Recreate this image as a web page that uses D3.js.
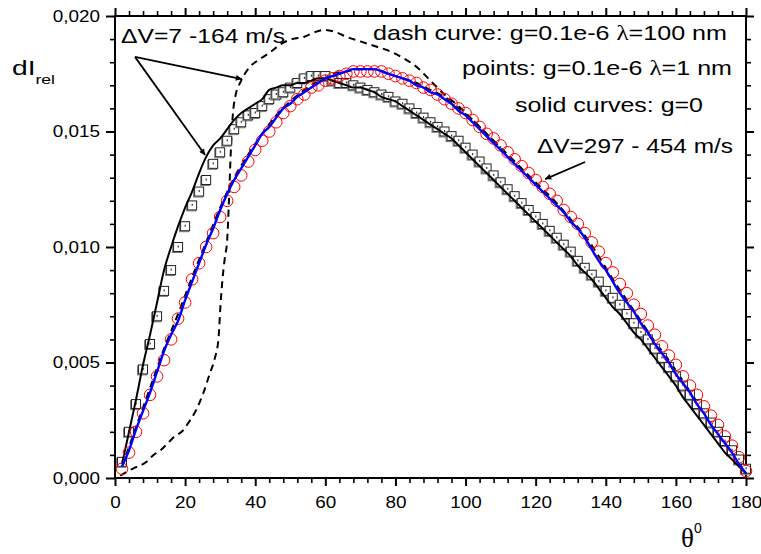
<!DOCTYPE html>
<html><head><meta charset="utf-8">
<script src="https://cdn.jsdelivr.net/npm/d3@7"></script>
<style>body{margin:0;background:#fff}svg{display:block}</style>
</head><body>
<svg id="c" width="761" height="554"></svg>
<script>
// ---- data ----
const xMajorTicks = [0,20,40,60,80,100,120,140,160,180];
const yMajorTicks = [0,0.005,0.010,0.015,0.020];
const pointTheta = d3.range(2,181,2);
// squares: points g=0.1e-6 lambda=1nm, dV=7-164 m/s
const squaresLow = [0.0007,0.0020,0.0032,0.0047,0.0058,0.0070,0.0081,0.0090,0.0100,0.0109,
 0.0118,0.0124,0.0129,0.0136,0.0141,0.0146,0.0151,0.0154,0.0157,0.0158,
 0.0161,0.0164,0.0166,0.0167,0.0169,0.0171,0.0173,0.0174,0.0174,0.0174,
 0.0172,0.0171,0.0171,0.0170,0.0169,0.0168,0.0167,0.0166,0.0165,0.0163,
 0.0162,0.0160,0.0158,0.0156,0.0154,0.0152,0.0150,0.0148,0.0146,0.0143,
 0.0140,0.0137,0.0134,0.0131,0.0128,0.0125,0.0122,0.0119,0.0116,0.0113,
 0.0110,0.0107,0.0104,0.0101,0.0098,0.0094,0.0091,0.0088,0.0085,0.0081,
 0.0078,0.0075,0.0071,0.0067,0.0063,0.0060,0.0056,0.0052,0.0048,0.0044,
 0.0040,0.0036,0.0032,0.0028,0.0024,0.0020,0.0016,0.0012,0.0008,0.0004];
// circles: points g=0.1e-6 lambda=1nm, dV=297-454 m/s
const circlesHigh = [0.0004,0.0011,0.0020,0.0028,0.0036,0.0044,0.0051,0.0060,0.0069,0.0076,
 0.0086,0.0093,0.0100,0.0106,0.0113,0.0120,0.0126,0.0131,0.0137,0.0142,
 0.0146,0.0150,0.0154,0.0158,0.0161,0.0164,0.0166,0.0169,0.0170,0.0172,
 0.0173,0.0174,0.0175,0.0176,0.0176,0.0176,0.0176,0.0176,0.0175,0.0174,
 0.0173,0.0172,0.0171,0.0169,0.0168,0.0166,0.0164,0.0162,0.0160,0.0158,
 0.0155,0.0152,0.0149,0.0147,0.0144,0.0141,0.0138,0.0135,0.0132,0.0129,
 0.0126,0.0123,0.0120,0.0116,0.0113,0.0110,0.0106,0.0102,0.0098,0.0093,
 0.0089,0.0084,0.0080,0.0075,0.0071,0.0066,0.0062,0.0057,0.0053,0.0049,
 0.0044,0.0040,0.0036,0.0031,0.0027,0.0023,0.0018,0.0014,0.0009,0.0003];
// solid curves g=0
const solidLow = [0.0006,0.0020,0.0034,0.0049,0.0062,0.0076,0.0090,0.0100,0.0109,0.0117,
 0.0124,0.0132,0.0139,0.0144,0.0147,0.0151,0.0155,0.0158,0.0160,0.0162,
 0.0164,0.0168,0.0169,0.0170,0.0170,0.0171,0.0171,0.0172,0.0173,0.0173,
 0.0172,0.0171,0.0170,0.0169,0.0169,0.0168,0.0167,0.0165,0.0164,0.0163,
 0.0161,0.0159,0.0157,0.0155,0.0153,0.0151,0.0149,0.0147,0.0144,0.0141,
 0.0138,0.0135,0.0132,0.0129,0.0126,0.0123,0.0120,0.0117,0.0114,0.0111,
 0.0108,0.0105,0.0102,0.0099,0.0096,0.0092,0.0089,0.0086,0.0082,0.0078,
 0.0074,0.0071,0.0067,0.0063,0.0060,0.0056,0.0052,0.0048,0.0044,0.0040,
 0.0035,0.0031,0.0027,0.0023,0.0019,0.0015,0.0011,0.0008,0.0005,0.0002];
const solidHigh = [0.0005,0.0012,0.0021,0.0029,0.0037,0.0046,0.0055,0.0062,0.0068,0.0077,
 0.0085,0.0093,0.0101,0.0108,0.0116,0.0123,0.0129,0.0134,0.0139,0.0144,
 0.0149,0.0152,0.0156,0.0160,0.0162,0.0165,0.0167,0.0169,0.0171,0.0173,
 0.0174,0.0175,0.0176,0.0177,0.0177,0.0177,0.0177,0.0176,0.0175,0.0174,
 0.0173,0.0172,0.0170,0.0169,0.0167,0.0166,0.0164,0.0162,0.0159,0.0157,
 0.0154,0.0151,0.0148,0.0145,0.0142,0.0139,0.0136,0.0133,0.0130,0.0127,
 0.0124,0.0121,0.0118,0.0115,0.0111,0.0108,0.0104,0.0099,0.0094,0.0090,
 0.0085,0.0080,0.0076,0.0072,0.0067,0.0063,0.0058,0.0054,0.0050,0.0045,
 0.0041,0.0037,0.0032,0.0028,0.0023,0.0019,0.0015,0.0011,0.0006,0.0002];
// dash curves g=0.1e-6 lambda=100nm
const dashLowTheta = [1.5,5,9,11,13,15,17,19,21,23,25,27,28.5,29.5,30.1,30.6,31.3,32,32.5,33,33.6,34.3,36,38.5,41,44,47.5,50.5,54,57,60,63,66,70,74,78,82,86,90,94,98,102,106,110,114,118,122,126,130,134,138,142,146,150,154,158,162,166,170,174,178,180];
const dashLowValues = [0.0001,0.0004,0.0007,0.0010,0.0012,0.0015,0.0018,0.0020,0.0024,0.0029,0.0036,0.0045,0.0052,0.0060,0.0075,0.0085,0.0095,0.0103,0.0120,0.0140,0.0157,0.0165,0.0172,0.0178,0.0181,0.0184,0.0188,0.0190,0.0191,0.0193,0.0194,0.0193,0.0191,0.0189,0.0187,0.0185,0.0182,0.0178,0.0172,0.0166,0.0161,0.0155,0.0149,0.0143,0.0137,0.0131,0.0125,0.0119,0.0112,0.0105,0.0096,0.0086,0.0077,0.0068,0.0059,0.0051,0.0042,0.0033,0.0024,0.0016,0.0007,0.0003];
const dashHighTheta = [2,6,10,14,18,22,26,30,34,38,42,46,50,54,58,62,66,70,74,78,82,86,90,94,98,102,106,110];
const dashHighValues = [0.0005,0.0022,0.0039,0.0056,0.0071,0.0087,0.0102,0.0117,0.0130,0.0140,0.0149,0.0157,0.0163,0.0168,0.0172,0.0175,0.0176,0.0177,0.0177,0.0175,0.0173,0.0171,0.0168,0.0165,0.0160,0.0155,0.0149,0.0143];

// ---- layout ----
const svg = d3.select("#c");
const L=115, R=746, T=16, B=478;
const x = d3.scaleLinear().domain([0,180]).range([L,R]);
const y = d3.scaleLinear().domain([0,0.020]).range([B,T]);
const SANS = "'Liberation Sans', Arial, sans-serif";
const STRETCH = 1.18;
function stretch(sel,k){ sel.each(function(){ const w=this.getComputedTextLength(); this.setAttribute("textLength", w*k); this.setAttribute("lengthAdjust","spacingAndGlyphs"); }); }

svg.append("rect").attr("width",761).attr("height",554).attr("fill","#fff");

const xMinor = d3.range(0,181,4).filter(v=>v%20!==0);
const yMinor = d3.range(0,21,1).map(v=>v/1000).filter((v,i)=>i%5!==0);
const yfmt = v => d3.format(".3f")(v).replace(".",",");

function styleAxis(g,w){ g.select(".domain").remove(); g.selectAll("line").attr("stroke","#000").attr("stroke-width",w); }

svg.append("g").attr("transform",`translate(0,${B})`).call(d3.axisBottom(x).tickValues(xMinor).tickSize(5).tickFormat("")).call(g=>styleAxis(g,1.6));
svg.append("g").attr("transform",`translate(0,${T})`).call(d3.axisTop(x).tickValues(xMinor).tickSize(5).tickFormat("")).call(g=>styleAxis(g,1.6));
svg.append("g").attr("transform",`translate(${L},0)`).call(d3.axisLeft(y).tickValues(yMinor).tickSize(5).tickFormat("")).call(g=>styleAxis(g,1.6));
svg.append("g").attr("transform",`translate(${R},0)`).call(d3.axisRight(y).tickValues(yMinor).tickSize(5).tickFormat("")).call(g=>styleAxis(g,1.6));

const gxb = svg.append("g").attr("transform",`translate(0,${B})`).call(d3.axisBottom(x).tickValues(xMajorTicks).tickSize(8).tickPadding(10.5).tickFormat(d3.format("d"))).call(g=>styleAxis(g,2));
svg.append("g").attr("transform",`translate(0,${T})`).call(d3.axisTop(x).tickValues(xMajorTicks).tickSize(8).tickFormat("")).call(g=>styleAxis(g,2));
const gyl = svg.append("g").attr("transform",`translate(${L},0)`).call(d3.axisLeft(y).tickValues(yMajorTicks).tickSize(9).tickPadding(6).tickFormat(yfmt)).call(g=>styleAxis(g,2));
svg.append("g").attr("transform",`translate(${R},0)`).call(d3.axisRight(y).tickValues(yMajorTicks).tickSize(8).tickFormat("")).call(g=>styleAxis(g,2));
[gxb,gyl].forEach(g=>{ g.selectAll("text").attr("font-family",SANS).attr("font-size",16).attr("fill","#000"); stretch(g.selectAll("text"),STRETCH); });

// frame
svg.append("rect").attr("x",L).attr("y",T).attr("width",R-L).attr("height",B-T).attr("fill","none").attr("stroke","#000").attr("stroke-width",2);

const plot = svg.append("g");
const lineGen = d3.line().x(d=>x(d[0])).y(d=>y(d[1])).curve(d3.curveMonotoneX);
const zip = (a,b)=>a.map((t,i)=>[t,b[i]]);

// dashed curves
plot.append("path").attr("d",lineGen(zip(dashHighTheta,dashHighValues))).attr("fill","none").attr("stroke","#000").attr("stroke-width",2).attr("stroke-dasharray","7,5");
plot.append("path").attr("d",lineGen(zip(dashLowTheta,dashLowValues))).attr("fill","none").attr("stroke","#000").attr("stroke-width",2).attr("stroke-dasharray","7,5");

// squares
const sq = plot.append("g").selectAll("g").data(zip(pointTheta,squaresLow)).join("g")
  .attr("transform",d=>`translate(${x(d[0])},${y(d[1])})`);
sq.append("rect").attr("x",-5.5).attr("y",-3.5).attr("width",9).attr("height",9).attr("fill","none").attr("stroke","#777").attr("stroke-width",1);
sq.append("rect").attr("x",-4.5).attr("y",-4.5).attr("width",9).attr("height",9).attr("fill","#fff").attr("stroke","#222").attr("stroke-width",1);
sq.append("rect").attr("x",-0.5).attr("y",-1.5).attr("width",1.2).attr("height",2).attr("fill","#333");

// black solid
plot.append("path").attr("d",lineGen(zip(pointTheta,solidLow))).attr("fill","none").attr("stroke","#000").attr("stroke-width",2);

// circles
plot.append("g").selectAll("circle").data(zip(pointTheta,circlesHigh)).join("circle")
  .attr("cx",d=>x(d[0])).attr("cy",d=>y(d[1])).attr("r",5.8).attr("fill","none").attr("stroke","#ff0000").attr("stroke-width",1);

// blue solid
plot.append("path").attr("d",lineGen(zip(pointTheta,solidHigh))).attr("fill","none").attr("stroke","#0000ff").attr("stroke-width",2.4);

// arrows
const defs = svg.append("defs");
defs.append("marker").attr("id","ah").attr("viewBox","0 0 10 10").attr("refX",10).attr("refY",5)
  .attr("markerWidth",10).attr("markerHeight",6).attr("markerUnits","userSpaceOnUse").attr("orient","auto")
  .append("path").attr("d","M0,0 L10,5 L0,10 z").attr("fill","#000");
const arrows = [[[5.7,0.01823],[36.2,0.01727]],[[5.7,0.01823],[25.7,0.01398]],[[134.1,0.01368],[122.7,0.01294]]];
arrows.forEach(a=>{
  svg.append("line").attr("x1",x(a[0][0])).attr("y1",y(a[0][1])).attr("x2",x(a[1][0])).attr("y2",y(a[1][1]))
    .attr("stroke","#000").attr("stroke-width",1.8).attr("marker-end","url(#ah)");
});

// annotations
function ann(xp,yp,w,parts){
  const t = svg.append("text").attr("x",xp).attr("y",yp).attr("font-family",SANS).attr("font-size",21).attr("fill","#000");
  parts.forEach(p=>{ const s=t.append("tspan").text(p[0]); if(p[1]) s.attr("font-family","'Liberation Serif', 'DejaVu Serif', serif"); });
  t.attr("textLength",w).attr("lengthAdjust","spacingAndGlyphs");
}
ann(121,43,164,[["ΔV=7 -164 m/s"]]);
ann(373,40,354,[["dash curve: g=0.1e-6 "],["λ",1],["=100 nm"]]);
ann(462,75,270,[["points: g=0.1e-6 "],["λ",1],["=1 nm"]]);
ann(515,112,188,[["solid curves: g=0"]]);
ann(537,153,196,[["ΔV=297 - 454 m/s"]]);

// axis titles
const yt = svg.append("text").attr("x",12).attr("y",75).attr("font-family",SANS).attr("fill","#000");
yt.append("tspan").attr("font-size",21).text("dI");
yt.append("tspan").attr("font-size",13).attr("dy",9).text("rel");
yt.attr("textLength",43).attr("lengthAdjust","spacingAndGlyphs");
const xt = svg.append("text").attr("x",681).attr("y",547).attr("fill","#000");
xt.append("tspan").attr("font-family","'Liberation Serif', serif").attr("font-size",27).text("θ");
xt.append("tspan").attr("font-family",SANS).attr("font-size",14).attr("dy",-14).text("0");
</script>
</body></html>
